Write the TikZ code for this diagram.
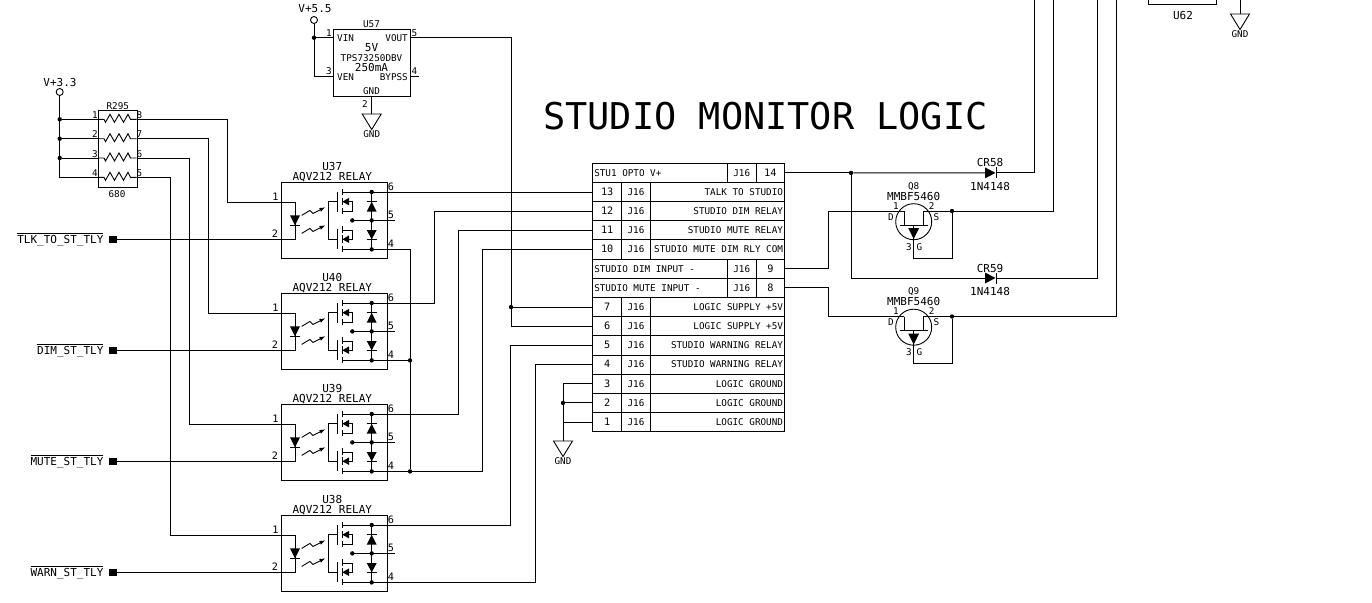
\documentclass[tikz,border=0pt]{standalone}
\usepackage{fontspec}
\setmainfont{DejaVu Sans Mono}
\usetikzlibrary{positioning,arrows}

\tikzset{
  wire/.style={line width=0.9pt},
  tiny/.style={font=\fontsize{9.3}{10}\selectfont,inner sep=0pt},
  pinlab/.style={font=\fontsize{10.2}{11}\selectfont,inner sep=0pt},
  big/.style={font=\fontsize{11}{12}\selectfont,inner sep=0pt},
  dot/.style={circle,fill,inner sep=0pt,minimum size=4.4pt},
  cell/.style={draw,line width=1pt,minimum height=19.17pt,inner sep=0pt,anchor=west,text height=6.5pt,text depth=0pt},
  port/.style={fill,inner sep=0pt,minimum size=7.5pt},
  rail/.style={circle,draw,line width=0.9pt,inner sep=0pt,minimum size=7pt}
}

% ground symbol, top of the triangle at the given point
\newcommand{\gnd}[3]{
  \coordinate (#1) at (#2,#3);
  \draw[wire] (#1) ++(-9.5,0) -- ++(19,0) -- ++(-9.5,15.5) -- cycle;
  \node[tiny] (#1-t) at (#2,#3+20) {GND};
}

% optically coupled relay
\newcommand{\relay}[3]{
  \begin{scope}[shift={(281,#2)}]
    \node[draw,line width=1pt,minimum width=105.7pt,minimum height=76pt,inner sep=0pt,anchor=north west] (#1) at (0,0) {};
    \node[big] (#1-n) at (51.3,-16) {#1};
    \node[big] (#1-p) at (51.3,-5.5) {#3};
    \coordinate (#1-1) at (0,19.6);
    \coordinate (#1-2) at (0,56.9);
    \coordinate (#1-6) at (105.7,9.6);
    \coordinate (#1-5) at (105.7,38);
    \coordinate (#1-4) at (105.7,67);
    \foreach \p/\x/\y in {1/-5.5/14,2/-6/51,6/110/4.2,5/110/32.6,4/110/61.6}
      \node[pinlab] (#1-l\p) at (\x,\y) {\p};
    % led
    \draw[wire] (#1-1) -| (14,56.9) -- (#1-2);
    \fill (9,33) -- (19,33) -- (14,43) -- cycle;
    \draw[wire] (9,43) -- (19,43);
    \draw[wire,-latex] (20.7,33) -- (29,28) -- (32,31) -- (44,25);
    \draw[wire,-latex] (20.7,51) -- (29,46) -- (32,49) -- (44,43);
    % fets
    \draw[wire] (56.3,19.3) -- (47.3,19.3) -- (47.3,56.9) -- (56.3,56.9);
    \draw[wire] (56.3,9.3) -- (56.3,29.3) (56.3,47) -- (56.3,67);
    \draw[wire] (61.3,6.5) -- (61.3,12.5) (61.3,15.5) -- (61.3,23) (61.3,25.5) -- (61.3,32);
    \draw[wire] (61.3,44) -- (61.3,50.5) (61.3,53) -- (61.3,60.5) (61.3,64) -- (61.3,70);
    \draw[wire] (61.3,28.6) -| (71.3,19.3) -- (61.3,19.3);
    \draw[wire] (61.3,47.6) -| (71.3,56.9) -- (61.3,56.9);
    \fill (61.3,19.3) -- (68,15.5) -- (68,23) -- cycle;
    \fill (61.3,56.9) -- (68,53) -- (68,60.5) -- cycle;
    \draw[wire] (61.3,9.6) -- (#1-6);
    \draw[wire] (61.3,67) -- (#1-4);
    \draw[wire] (71.3,38) -- (114,38);
    % diodes
    \draw[wire] (90.7,9.6) -- (90.7,67);
    \fill (85.7,29.3) -- (95.7,29.3) -- (90.7,19.3) -- cycle;
    \draw[wire] (85.7,19.3) -- (95.7,19.3);
    \fill (85.7,47.6) -- (95.7,47.6) -- (90.7,56.9) -- cycle;
    \draw[wire] (85.7,56.9) -- (95.7,56.9);
    \node[dot] (#1-da) at (71.3,38) {};
    \node[dot] (#1-db) at (90.7,9.6) {};
    \node[dot] (#1-dc) at (90.7,38) {};
    \node[dot] (#1-dd) at (90.7,67) {};
  \end{scope}
}

% jfet, origin on the level of the drain and source wires
\newcommand{\jfet}[3]{
  \begin{scope}[shift={(913.7,#3)}]
    \coordinate (#1-1) at (-9.4,0);
    \coordinate (#1-2) at (9.4,0);
    \coordinate (#1-3) at (0,47.3);
    \node[dot] (#1-s) at (38.3,0) {};
    \draw[wire] (0,10.7) circle (18);
    \draw[wire] (#1-1) -- (-9.4,14.3) (#1-2) -- (9.4,14.3) (-14,14.3) -- (14,14.3);
    \draw[wire] (0,14.3) -- (#1-3) -| (#1-s);
    \draw[wire] (#1-2) -- (#1-s);
    \fill (-5.5,17) -- (5.5,17) -- (0,28) -- cycle;
    \node[tiny] (#1-n) at (0,-24.5) {#2};
    \node[big] (#1-p) at (0,-14.7) {MMBF5460};
    \node[tiny] (#1-a) at (-17.7,-5) {1};
    \node[tiny] (#1-b) at (18,-5) {2};
    \node[tiny] (#1-d) at (-22.7,6) {D};
    \node[tiny] (#1-e) at (22.6,6) {S};
    \node[tiny] (#1-f) at (-4.7,36) {3};
    \node[tiny] (#1-g) at (5.6,36) {G};
  \end{scope}
}

% four resistor network row
\newcommand{\resrow}[2]{
  \draw[wire] (98.3,#2) -- (104,#2) -- ++(1.5,3) -- ++(4.5,-8) -- ++(4.5,8) -- ++(4.5,-8) -- ++(4.5,8) -- ++(4.5,-8) -- (130.5,#2) -- (136.7,#2);
}

\newcommand{\diode}[3]{
  \coordinate (#1-a) at (#2,#3);
  \coordinate (#1-k) at (#2+11,#3);
  \fill (#1-a) ++(0,-5.5) -- ++(10.5,5.5) -- ++(-10.5,5.5) -- cycle;
  \draw[wire] (#1-k) ++(0,-5.5) -- ++(0,11);
}

\begin{document}
\begin{tikzpicture}[x=1pt,y=-1pt]
  \useasboundingbox (0,0) rectangle (1372,602);
  \node[font=\fontsize{36.9}{40}\selectfont,inner sep=0pt] (title) at (765.5,116) {STUDIO MONITOR LOGIC};

  % connector table
  \foreach \i/\n/\t in {1/13/TALK TO STUDIO,2/12/STUDIO DIM RELAY,3/11/STUDIO MUTE RELAY,4/10/STUDIO MUTE DIM RLY COM,7/7/LOGIC SUPPLY +5V,8/6/LOGIC SUPPLY +5V,9/5/STUDIO WARNING RELAY,10/4/STUDIO WARNING RELAY,11/3/LOGIC GROUND,12/2/LOGIC GROUND,13/1/LOGIC GROUND}{
    \node[cell,minimum width=28.7pt,pinlab] (pin\n) at (592.3,163.3+19.17*\i+9.6) {\n};
    \node[cell,minimum width=29pt,tiny] (ref\n) at (621,163.3+19.17*\i+9.6) {J16};
    \node[cell,minimum width=134pt,text width=131pt,align=right,tiny] (txt\n) at (650,163.3+19.17*\i+9.6) {\spaceskip=.602em\relax \t};
  }
  \foreach \i/\n/\t in {0/14/STU1 OPTO V+,5/9/STUDIO DIM INPUT -,6/8/STUDIO MUTE INPUT -}{
    \node[cell,minimum width=134.4pt,text width=131.5pt,align=left,tiny] (txt\n) at (592.3,163.3+19.17*\i+9.6) {\spaceskip=.602em\relax \t};
    \node[cell,minimum width=29pt,tiny] (ref\n) at (726.7,163.3+19.17*\i+9.6) {J16};
    \node[cell,minimum width=28.3pt,pinlab] (pin\n) at (755.7,163.3+19.17*\i+9.6) {\n};
  }

  % resistor network
  \node[draw,line width=1pt,minimum width=38.4pt,minimum height=76.7pt,inner sep=0pt,anchor=north west] (R295) at (98.3,110) {};
  \node[tiny] (R295-n) at (117.8,106) {R295};
  \node[tiny] (R295-v) at (117,194) {680};
  \resrow{a}{119.3}
  \resrow{b}{138.7}
  \resrow{c}{158}
  \resrow{d}{177.3}
  \foreach \p/\y in {1/115,2/134.5,3/154,4/173}
    \node[tiny] (R295-l\p) at (95,\y) {\p};
  \foreach \p/\y in {8/115,7/134.5,6/154,5/173}
    \node[tiny] (R295-l\p) at (139.5,\y) {\p};
  \foreach \p/\y in {1/119.3,2/138.7,3/158,4/177.3}
    \coordinate (R295-\p) at (98.3,\y);
  \foreach \p/\y in {8/119.3,7/138.7,6/158,5/177.3}
    \coordinate (R295-\p) at (136.7,\y);
  \node[rail] (V33) at (59.7,92) {};
  \node[big] (V33-t) at (60,82) {V+3.3};
  \draw[wire] (V33) |- (R295-4);
  \foreach \p/\y in {1/119.3,2/138.7,3/158}{
    \node[dot] (V33-\p) at (59.7,\y) {};
    \draw[wire] (V33-\p) -- (R295-\p);
  }

  % relays
  \relay{U37}{182.4}{AQV212 RELAY}
  \relay{U40}{293.4}{AQV212 RELAY}
  \relay{U39}{404.4}{AQV212 RELAY}
  \relay{U38}{515.4}{AQV212 RELAY}
  \draw[wire] (R295-8) -- ++(91,0) |- (U37-1);
  \draw[wire] (R295-7) -- ++(71.5,0) |- (U40-1);
  \draw[wire] (R295-6) -- ++(52.3,0) |- (U39-1);
  \draw[wire] (R295-5) -- ++(33.3,0) |- (U38-1);

  % control inputs
  \foreach \r/\l in {U37/TLK\_TO\_ST\_TLY,U40/DIM\_ST\_TLY,U39/MUTE\_ST\_TLY,U38/WARN\_ST\_TLY}{
    \node[port,left=164pt of \r-2] (\r-in) {};
    \node[big,left=5.5pt of \r-in] (\r-lab) {$\overline{\mbox{\l}}$};
    \draw[wire] (\r-in) -- (\r-2);
  }

  % relay outputs to the connector
  \draw[wire] (U37-6) -- (U37-6 -| pin13.west);
  \draw[wire] (U40-6) -- ++(47.3,0) |- (pin12.west);
  \draw[wire] (U39-6) -- ++(71.3,0) |- (pin11.west);
  \draw[wire] (U38-6) -- ++(123.3,0) |- (pin5.west);
  \draw[wire] (U38-4) -- ++(148.3,0) |- (pin4.west);
  \node[dot] (com1) at (410,360.4) {};
  \node[dot] (com2) at (410,471.4) {};
  \draw[wire] (U37-4) -| (com2);
  \draw[wire] (U40-4) -- (com1);
  \draw[wire] (U39-4) -- ++(95.3,0) |- (pin10.west);

  % regulator
  \node[draw,line width=1pt,minimum width=77.3pt,minimum height=67pt,inner sep=0pt,anchor=north west] (U57) at (332.7,28.7) {};
  \node[tiny] (U57-n) at (371.5,24.5) {U57};
  \node[tiny,anchor=west] (U57-a) at (337,38) {VIN};
  \node[tiny,anchor=east] (U57-b) at (408,38) {VOUT};
  \node[big] (U57-c) at (371.5,48) {5V};
  \node[tiny] (U57-d) at (371.5,58) {TPS73250DBV};
  \node[big] (U57-e) at (371.5,67) {250mA};
  \node[tiny,anchor=west] (U57-f) at (337,77) {VEN};
  \node[tiny,anchor=east] (U57-g) at (408,77) {BYPSS};
  \node[tiny] (U57-h) at (371.5,91) {GND};
  \coordinate (U57-1) at (332.7,37.7);
  \coordinate (U57-3) at (332.7,76.7);
  \coordinate (U57-5) at (410,37.7);
  \coordinate (U57-4) at (410,76.7);
  \coordinate (U57-2) at (371.7,95.7);
  \node[tiny] (U57-l1) at (329,33) {1};
  \node[tiny] (U57-l3) at (329,71) {3};
  \node[tiny] (U57-l5) at (414.5,33) {5};
  \node[tiny] (U57-l4) at (414.5,71) {4};
  \node[tiny] (U57-l2) at (365,104) {2};
  \node[rail] (V55) at (314,20) {};
  \node[big] (V55-t) at (315,9) {V+5.5};
  \node[dot] (V55-d) at (314,37.7) {};
  \draw[wire] (V55) |- (U57-3);
  \draw[wire] (V55-d) -- (U57-1);
  \draw[wire] (U57-4) -- ++(9.3,0);
  \gnd{G1}{371.7}{114}
  \draw[wire] (U57-2) -- (G1);
  \node[dot] (sup) at (pin7.west -| 511,0) {};
  \draw[wire] (U57-5) -| (sup);
  \draw[wire] (sup) |- (pin6.west);
  \draw[wire] (sup) -- (pin7.west);

  % logic ground
  \gnd{G2}{563}{441}
  \node[dot] (gndj) at (pin2.west -| 563,0) {};
  \draw[wire] (pin3.west) -| (G2);
  \draw[wire] (pin2.west) -- (gndj);
  \draw[wire] (pin1.west) -- ++(-29.3,0);

  % right hand side
  \diode{CR58}{985}{172.9}
  \diode{CR59}{985}{278}
  \node[big] (CR58-n) at (990,162.7) {CR58};
  \node[big] (CR58-v) at (990,186) {1N4148};
  \node[big] (CR59-n) at (990,268.7) {CR59};
  \node[big] (CR59-v) at (990,291.7) {1N4148};
  \node[dot] (opto) at (pin14.east -| 851,0) {};
  \coordinate (top1) at (1034,0);
  \coordinate (top2) at (1053,0);
  \coordinate (top3) at (1097,0);
  \coordinate (top4) at (1116,0);
  \draw[wire] (pin14.east) -- (opto);
  \draw[wire] (opto) -- (CR58-a);
  \draw[wire] (opto) |- (CR59-a);
  \draw[wire] (CR58-k) -| (top1);
  \draw[wire] (CR59-k) -| (top3);
  \jfet{Q8}{Q8}{211}
  \jfet{Q9}{Q9}{316.5}
  \draw[wire] (pin9.east) -- ++(43,0) |- (Q8-1);
  \draw[wire] (pin8.east) -- ++(43,0) |- (Q9-1);
  \draw[wire] (Q8-s) -| (top2);
  \draw[wire] (Q9-s) -| (top4);

  % part of the next stage
  \coordinate (U62-a) at (1148.3,0);
  \coordinate (U62-b) at (1216.7,0);
  \draw[wire] (U62-a) |- (U62-b |- 0,4.7) -- (U62-b);
  \node[big] (U62-n) at (1183,15.5) {U62};
  \coordinate (G3-top) at (1240,0);
  \gnd{G3}{1240}{14}
  \draw[wire] (G3-top) -- (G3);
\end{tikzpicture}
\end{document}
